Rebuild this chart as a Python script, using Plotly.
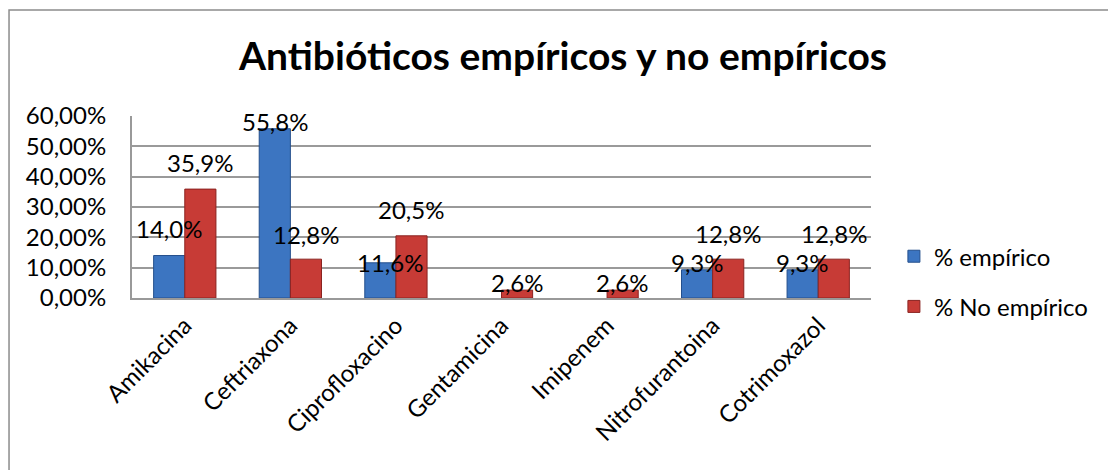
import plotly.graph_objects as go

# Datos
categorias = ['Amikacina', 'Ceftriaxona', 'Ciprofloxacino', 'Gentamicina',
              'Imipenem', 'Nitrofurantoina', 'Cotrimoxazol']
empirico = [14.0, 55.8, 11.6, None, None, 9.3, 9.3]
no_empirico = [35.9, 12.8, 20.5, 2.6, 2.6, 12.8, 12.8]

# desplazamiento vertical de las etiquetas (px), como en el original
lift_emp = [27, 7, 0, 0, 0, 7, 7]
lift_no = [27, 25, 26, 8, 8, 26, 26]

FONT = 'Lato'
AZUL = '#3C75C1'
ROJO = '#C73B36'

fig = go.Figure()
fig.add_trace(go.Bar(x=categorias, y=empirico, name='% empírico',
                     marker=dict(color=AZUL, line=dict(color='#244F8C', width=1)),
                     legendgroup='a'))
fig.add_trace(go.Bar(x=categorias, y=no_empirico, name='% No empírico',
                     marker=dict(color=ROJO, line=dict(color='#8A2320', width=1)),
                     legendgroup='b'))

def etiqueta(v):
    return f"{v:.1f}".replace('.', ',') + '%'

for cat, v, dy in zip(categorias, empirico, lift_emp):
    if v is None:
        continue
    dx = 10 if dy == 0 else 0
    fig.add_annotation(x=cat, y=v, text=etiqueta(v), showarrow=False,
                       xshift=-15.5 + dx, yshift=dy, yanchor='middle',
                       font=dict(family=FONT, size=24, color='black'))
for cat, v, dy in zip(categorias, no_empirico, lift_no):
    fig.add_annotation(x=cat, y=v, text=etiqueta(v), showarrow=False,
                       xshift=15.5, yshift=dy, yanchor='middle',
                       font=dict(family=FONT, size=24, color='black'))

# marco del gráfico
fig.add_shape(type='rect', xref='paper', yref='paper',
              x0=-0.1664, x1=1.34, y0=-1.1, y1=1.582,
              line=dict(color='#8C8C8C', width=1.5), layer='below')

# la página tiene 8 px de margen, por eso 1108x462
fig.update_layout(
    width=1108, height=462,
    margin=dict(l=124, r=245, t=108, b=172),
    paper_bgcolor='white', plot_bgcolor='white',
    separators=',.',
    barmode='group', bargap=0.41, bargroupgap=0,
    font=dict(family=FONT, size=24, color='black'),
    title=dict(text='<b>Antibióticos empíricos y no empíricos</b>',
               font=dict(family=FONT, size=39, color='black'),
               x=0.5009, xref='container', xanchor='center',
               y=0.896, yref='container', yanchor='middle'),
    legend=dict(x=1.031, xanchor='left', y=0.09, yanchor='middle',
                font=dict(family=FONT, size=24, color='black'),
                traceorder='grouped', tracegroupgap=16,
                bgcolor='rgba(0,0,0,0)'),
    xaxis=dict(tickangle=-45, showline=True, linecolor='#999999', linewidth=2,
               ticks='', ticklabelstandoff=2,
               tickfont=dict(family=FONT, size=24, color='black')),
    yaxis=dict(range=[0, 60], dtick=10, tickformat='.2f', ticksuffix='%',
               showgrid=True, gridcolor='#9A9A9A', gridwidth=2,
               showline=True, linecolor='#999999', linewidth=2,
               zeroline=False, ticks='', ticklabelstandoff=19,
               tickfont=dict(family=FONT, size=24, color='black')),
    showlegend=True,
)

fig.write_html("out.html")
